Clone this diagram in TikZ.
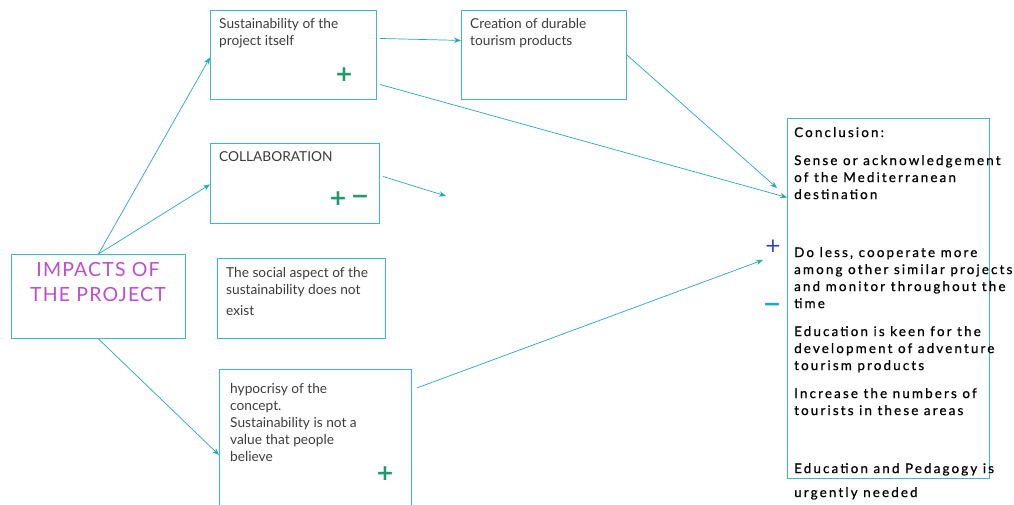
\documentclass[tikz,border=0pt]{standalone}
\usepackage{fontspec}
\setmainfont{Lato}
\newfontfamily\boxfont{Lato}
\newfontfamily\titlefont[LetterSpace=6]{Lato}
\newfontfamily\concfont[LetterSpace=16,FakeBold=0.7]{Lato}
\newfontfamily\signfont{DejaVu Sans}
\usetikzlibrary{arrows.meta,calc}
\definecolor{boxline}{HTML}{3DB9C4}
\definecolor{linkline}{HTML}{26A9B6}
\definecolor{titlepurple}{HTML}{BC4ED0}
\definecolor{bodygray}{HTML}{3C3C3C}
\definecolor{signgreen}{HTML}{21996C}
\definecolor{signblue}{HTML}{2E3FB0}
\definecolor{signcyan}{HTML}{19A6DA}
\tikzset{
  x=1pt, y=-1pt,
  panel/.style={draw=boxline, line width=0.9pt, rectangle, anchor=north west, inner sep=0pt},
  label/.style={anchor=north west, inner sep=0pt, align=left, text=bodygray,
    font=\boxfont\fontsize{13.7}{17}\selectfont},
  link/.style={draw=linkline, line width=0.7pt, -{Stealth[length=7pt,width=5.5pt]}},
  sign/.style={inner sep=0pt, font=\signfont\bfseries\fontsize{22}{22}\selectfont},
}
\begin{document}
\begin{tikzpicture}
\useasboundingbox (0,0) rectangle (1014,505);

% boxes
\node[panel, minimum width=174pt, minimum height=84pt] (imp) at (11,254) {};
\node[panel, minimum width=166pt, minimum height=89pt] (sus) at (210,10) {};
\node[panel, minimum width=165pt, minimum height=89pt] (cre) at (461,10) {};
\node[panel, minimum width=169pt, minimum height=80pt] (col) at (210,143) {};
\node[panel, minimum width=168pt, minimum height=80pt] (soc) at (217,258) {};
\node[panel, minimum width=192pt, minimum height=145pt] (hyp) at (219,369) {};
\node[panel, minimum width=202pt, minimum height=360pt] (con) at (787,118) {};

% texts
\node[anchor=north, inner sep=0pt, align=center, text=titlepurple,
  font=\titlefont\fontsize{19.5}{25}\selectfont] (impt) at (98,262) {IMPACTS OF\\THE PROJECT};
\node[label] (sust) at (219,18) {Sustainability of the\\project itself};
\node[label] (cret) at (470,18) {Creation of durable\\tourism products};
\node[label] (colt) at (219,151) {COLLABORATION};
\node[label] (soct) at (226,267) {The social aspect of the\\sustainability does not\\[4pt]exist};
\node[label] (hypt) at (230,383) {hypocrisy of the\\concept.\\Sustainability is not a\\value that people\\believe};

\node[anchor=north west, inner sep=0pt, align=left, text=black,
  font=\concfont\fontsize{13.4}{17}\selectfont] (cont) at (794,127)
  {Conclusion:\\[11pt]
   Sense or acknowledgement\\of the Mediterranean\\destination\\[41pt]
   Do less, cooperate more\\among other similar projects\\and monitor throughout the\\time\\[11pt]
   Education is keen for the\\development of adventure\\tourism products\\[11pt]
   Increase the numbers of\\tourists in these areas\\[41pt]
   Education and Pedagogy is\\[7pt]urgently needed};

% signs
\node[sign, text=signgreen] (susp) at (344,75) {+};
\node[sign, text=signgreen] (colp) at (338,199) {+};
\node[sign, text=signgreen] (colm) at (360,199) {\textminus};
\node[sign, text=signgreen] (hypp) at (385,474) {+};
\node[sign, text=signblue, font=\signfont\fontsize{20}{20}\selectfont] (conp) at (773,246) {+};
\node[sign, text=signcyan] (conm) at (772,307) {\textminus};

% free arrow ends
\coordinate (colend) at (446,196);
\coordinate (creend) at (777,188);
\coordinate (hypend) at (763,260);

% connectors
\draw[link] (imp.north) -- ([yshift=-2.5pt]sus.west);
\draw[link] (imp.north) -- ([yshift=-1pt]col.west);
\draw[link] (imp.south) -- ([yshift=-13pt]hyp.west);
\draw[link] ([xshift=3pt,yshift=16.5pt]sus.east) -- ([yshift=14.5pt]cre.west);
\draw[link] ([xshift=3pt,yshift=-29.5pt]sus.east) -- ([yshift=101pt]con.west);
\draw[link] (cre.east) -- (creend);
\draw[link] ([xshift=3pt,yshift=7pt]col.east) -- (colend);
\draw[link] ([xshift=5pt,yshift=54pt]hyp.east) -- (hypend);
\end{tikzpicture}
\end{document}
